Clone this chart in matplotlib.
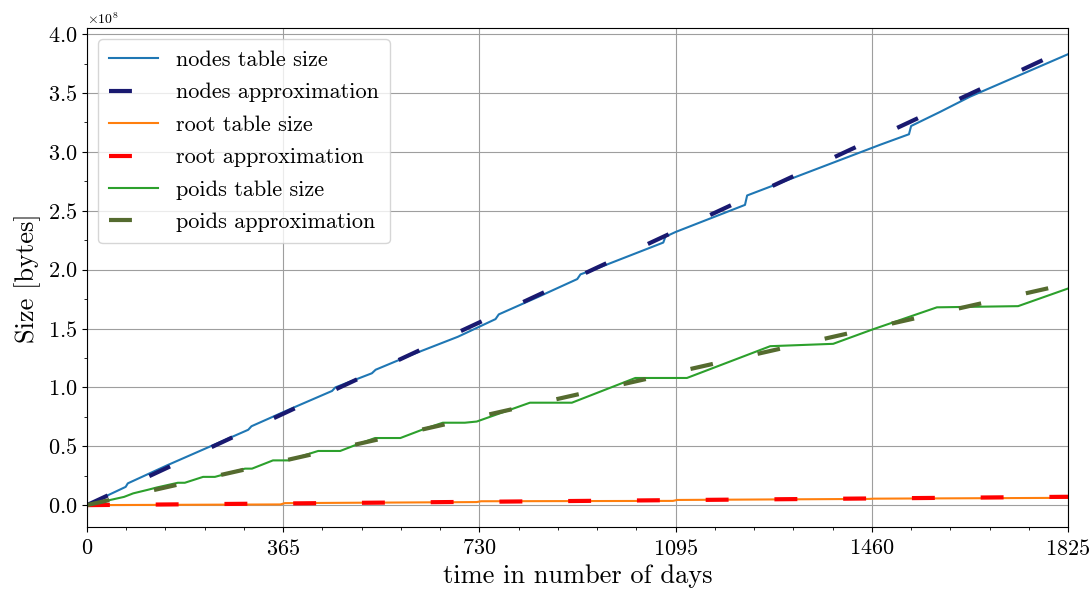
import matplotlib
matplotlib.use("Agg")
import matplotlib.pyplot as plt
from matplotlib.ticker import MultipleLocator

# table sizes in units of 1e8 bytes, sampled at the days where the growth changes
nodes_days = [0, 72, 76, 150, 190, 300, 306, 380, 456, 462, 530, 537, 600, 690,
              760, 766, 840, 912, 918, 954, 1072, 1076, 1095, 1224, 1228, 1475,
              1529, 1533, 1587, 1643, 1825]
nodes_size = [0.0, 0.155, 0.185, 0.34, 0.42, 0.64, 0.67, 0.82, 0.97, 1.00, 1.12,
              1.15, 1.27, 1.43, 1.58, 1.62, 1.77, 1.92, 1.96, 2.02, 2.23, 2.28,
              2.32, 2.55, 2.63, 3.06, 3.15, 3.22, 3.34, 3.47, 3.83]

root_days = [0, 360, 368, 725, 733, 1090, 1098, 1455, 1463, 1825]
root_size = [0.0, 0.006, 0.017, 0.026, 0.033, 0.036, 0.044, 0.053, 0.055, 0.062]

poids_days = [0, 69, 86, 113, 130, 169, 182, 216, 238, 294, 307, 346, 374, 430,
              471, 505, 536, 583, 629, 662, 703, 725, 824, 902, 1020, 1116, 1271,
              1388, 1460, 1581, 1732, 1825]
poids_size = [0.0, 0.07, 0.10, 0.13, 0.15, 0.19, 0.19, 0.24, 0.24, 0.31, 0.31,
              0.38, 0.38, 0.46, 0.46, 0.52, 0.57, 0.57, 0.65, 0.70, 0.70, 0.71,
              0.87, 0.87, 1.08, 1.08, 1.35, 1.37, 1.49, 1.68, 1.69, 1.84]

# linear approximations
approx_days = [0, 1825]
nodes_approx = [0.0, 3.88]
root_approx = [0.0, 0.071]
poids_approx = [0.0, 1.88]

scale = 1e8

plt.rcParams["font.family"] = ["cmr10", "DejaVu Serif"]
plt.rcParams["mathtext.fontset"] = "cm"
plt.rcParams["axes.formatter.use_mathtext"] = True
plt.rcParams["axes.unicode_minus"] = False

fig, ax = plt.subplots(figsize=(10.91, 5.89), dpi=100)
fig.subplots_adjust(left=0.0797, right=0.979, top=0.952, bottom=0.105)

dash = (5.5, 11)
ax.plot(nodes_days, [v * scale for v in nodes_size], color="#1f77b4", lw=1.5,
        label="nodes table size")
ax.plot(approx_days, [v * scale for v in nodes_approx], color="#191970", lw=3,
        dashes=dash, label="nodes approximation")
ax.plot(root_days, [v * scale for v in root_size], color="#ff7f0e", lw=1.5,
        label="root table size")
ax.plot(approx_days, [v * scale for v in root_approx], color="red", lw=3,
        dashes=dash, label="root approximation")
ax.plot(poids_days, [v * scale for v in poids_size], color="#2ca02c", lw=1.5,
        label="poids table size")
ax.plot(approx_days, [v * scale for v in poids_approx], color="#556b2f", lw=3,
        dashes=dash, label="poids approximation")

ax.set_xlim(0, 1825)
ax.set_ylim(-0.187e8, 4.05e8)
ax.xaxis.set_major_locator(MultipleLocator(365))
ax.xaxis.set_minor_locator(MultipleLocator(73))
ax.yaxis.set_major_locator(MultipleLocator(0.5e8))
ax.yaxis.set_minor_locator(MultipleLocator(0.25e8))
ax.grid(True, which="major", color="0.62", lw=0.8)
ax.tick_params(labelsize=16)
ax.tick_params(axis="x", pad=5)
ax.yaxis.get_offset_text().set_fontsize(10)

ax.set_xlabel("time in number of days", fontsize=19, labelpad=4)
ax.set_ylabel("Size [bytes]", fontsize=19, labelpad=5)
ax.legend(loc="upper left", fontsize=16, handlelength=2.2, labelspacing=0.58,
          borderpad=0.5)

fig.savefig("out.png")
